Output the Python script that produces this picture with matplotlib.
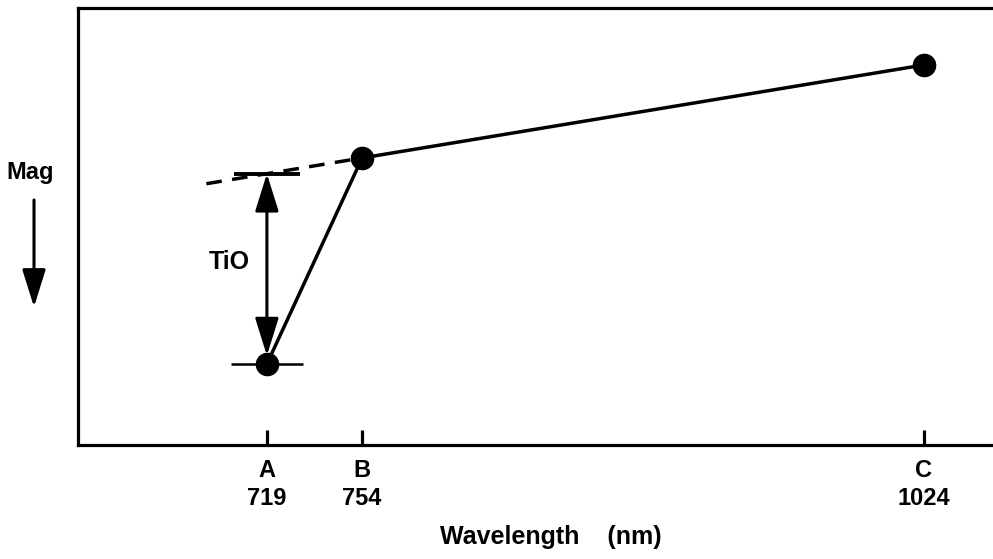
import numpy as np
import matplotlib.pyplot as plt
from matplotlib.scale import FuncScale

plt.rcParams['font.family'] = ['Liberation Sans', 'DejaVu Sans']

# filter points: letter, wavelength (nm), magnitude (schematic, arbitrary units)
letters = ['A', 'B', 'C']
wavelengths = [719, 754, 1024]
mags = [3.56, 1.50, 0.57]
dash_start = 698  # where the extrapolated continuum line begins

# the original axis is drawn roughly like 1/sqrt(wavelength)
fwd = lambda w: -np.power(np.clip(w, 1e-9, None), -0.5)
inv = lambda v: np.power(np.clip(-v, 1e-9, None), -2.0)

fig = plt.figure(figsize=(9.93, 5.59), dpi=100)
ax = fig.add_axes([0.0785, 0.204, 0.9215, 0.7818])
ax.set_xscale(FuncScale(ax.xaxis, (fwd, inv)))
ax.set_xlim(656.4, 1066.9)
ax.set_ylim(4.37, 0)  # brighter is up

# continuum through B and C, extended back (linear in the plotted coordinate)
fb, fc = fwd(wavelengths[1]), fwd(wavelengths[2])
def continuum(w):
    t = (fwd(w) - fb) / (fc - fb)
    return mags[1] + t * (mags[2] - mags[1])

cont_a = continuum(wavelengths[0])

ax.plot(wavelengths, mags, color='black', lw=2.5, marker='o', ms=16, zorder=3)
ax.plot([dash_start, wavelengths[1]], [continuum(dash_start), mags[1]],
        color='black', lw=2.5, ls=(0, (4.5, 3)), zorder=2)

# short bars marking the two levels at A
ax.plot([wavelengths[0]], [cont_a], marker='_', ms=48, mew=2.8, color='black')
ax.plot([wavelengths[0]], [mags[0]], marker='_', ms=52, mew=1.8, color='black')

# TiO depth arrow
ax.annotate('', xy=(wavelengths[0], cont_a), xytext=(wavelengths[0], mags[0]),
            arrowprops=dict(arrowstyle='<|-|>,head_length=0.8,head_width=0.25',
                            mutation_scale=29, color='black', lw=2.2,
                            shrinkA=6, shrinkB=0))
ax.annotate('TiO', xy=(wavelengths[0], (cont_a + mags[0]) / 2),
            xytext=(-27, 5), textcoords='offset points',
            ha='center', va='center', fontsize=18, fontweight='bold')

# "Mag" with downward arrow at the left
fig.text(30 / 993, 1 - 172 / 559, 'Mag', ha='center', va='center',
         fontsize=17, fontweight='bold')
fig.add_artist(plt.matplotlib.patches.FancyArrowPatch(
    (34 / 993, 1 - 200 / 559), (34 / 993, 1 - 307 / 559),
    transform=fig.transFigure, arrowstyle='-|>,head_length=0.8,head_width=0.25',
    mutation_scale=29, color='black', lw=2.2, shrinkA=0, shrinkB=0))

# axes styling
ax.spines['right'].set_visible(False)
for s in ['left', 'top', 'bottom']:
    ax.spines[s].set_linewidth(2.3)
ax.set_yticks([])
ax.set_xticks(wavelengths)
ax.set_xticklabels([f'{l}\n{w}' for l, w in zip(letters, wavelengths)],
                   fontsize=17, fontweight='bold', linespacing=1.3)
ax.xaxis.set_minor_locator(plt.NullLocator())
ax.tick_params(axis='x', direction='in', length=11, width=2.3, pad=10)

ax.set_xlabel('Wavelength    (nm)', fontsize=18, fontweight='bold', va='center')
ax.xaxis.set_label_coords(0.517, -0.21)

fig.savefig('out.png', dpi=100)
